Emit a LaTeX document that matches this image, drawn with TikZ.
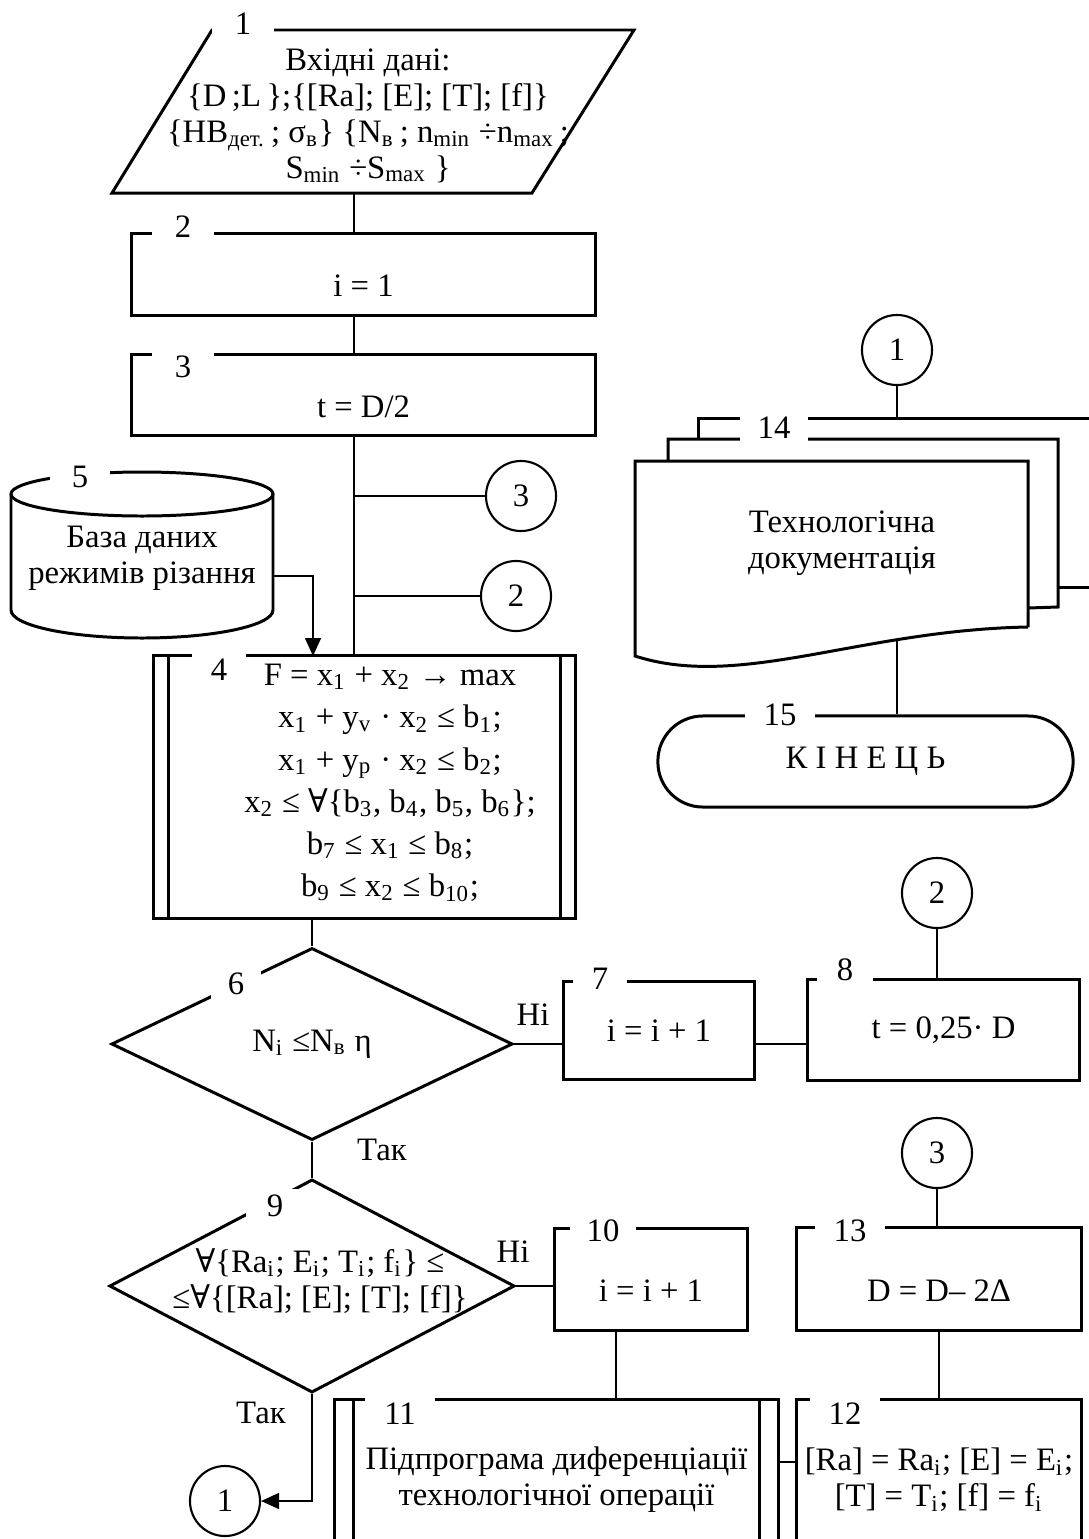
\documentclass[tikz,border=0pt]{standalone}
\usepackage{fontspec}
\setmainfont{Liberation Serif}
\newfontfamily\symfam{DejaVu Serif}
\usetikzlibrary{arrows.meta, positioning, shapes.geometric}
\newcommand{\ix}[1]{\textsubscript{#1}}

\begin{document}
\begin{tikzpicture}[
    x=0.01cm, y=-0.01cm,
    every node/.style={font=\fontsize{9.3}{10.2}\selectfont},
    outl/.style={draw, line width=0.85pt},
    proc/.style={rectangle, draw, line width=0.85pt, inner sep=0pt, align=center},
    dec/.style={diamond, draw, line width=0.85pt, inner sep=0pt, aspect=2, align=center},
    conn/.style={circle, draw, line width=0.6pt, minimum size=0.70cm, inner sep=0pt},
    wire/.style={line width=0.45pt},
    flow/.style={line width=0.45pt, -{Triangle[length=1.8mm, width=1.6mm]}},
    num/.style={fill=white, inner sep=0pt, minimum height=0.30cm},
    low/.style={text height=0.44cm, text depth=0pt}
]
\useasboundingbox (0,0) rectangle (1089,1539);

% Input data
\draw[outl] (212,30) -- (634,30) -- (532,193) -- (112,193) -- cycle;
\node[align=center] (b1) at (368,116) {Вхідні дані:\\ \{D\,;L\,\};\{[Ra]; [E]; [T]; [f]\}\\ \{HB\ix{дет.}\,; σ\ix{в}\} \{N\ix{в}\,; n\ix{min} ÷n\ix{max}\,;\\ S\ix{min} ÷S\ix{max}\ \}};
\coordinate (b1s) at (354,193);

% Process blocks
\node[proc, low, minimum width=4.63cm, minimum height=0.81cm] (b2) at (363.5,274.5) {i = 1};
\node[proc, low, minimum width=4.63cm, minimum height=0.80cm] (b3) at (363.5,395) {t = D/2};

% Data base
\draw[outl] (11,494) -- (11,610) arc[start angle=180, end angle=0, x radius=131, y radius=28] -- (273,494);
\draw[outl] (142,494) ellipse[x radius=131, y radius=22];
\node[align=center] (b5) at (142,558) {База даних\\режимів різання};
\coordinate (b5e) at (273,576);
\coordinate (b5in) at (313,656);

% Optimisation
\node[proc, minimum width=4.21cm, minimum height=2.62cm] (b4) at (364.5,787) {};
\node[align=center, font=\fontsize{9.3}{12}\selectfont] (t4) at (390,783) {F = x\ix{1} + x\ix{2} → max\\ x\ix{1} + y\ix{v} · x\ix{2} ≤ b\ix{1};\\ x\ix{1} + y\ix{p} · x\ix{2} ≤ b\ix{2};\\ x\ix{2} ≤ {\symfam ∀}\{b\ix{3}, b\ix{4}, b\ix{5}, b\ix{6}\};\\ b\ix{7} ≤ x\ix{1} ≤ b\ix{8};\\ b\ix{9} ≤ x\ix{2} ≤ b\ix{10};};

% Decisions and side blocks
\node[dec, minimum width=4.01cm, minimum height=1.92cm] (d6) at (312,1044) {N\ix{i} ≤N\ix{в} η};
\node[proc, minimum width=1.90cm, minimum height=0.97cm] (b7) at (659,1030.5) {i = i + 1};
\node[proc, minimum width=2.71cm, minimum height=1.00cm] (b8) at (943.5,1030) {t = 0,25· D};
\node[dec, minimum width=4.05cm, minimum height=2.13cm] (d9) at (312,1286) {};
\node[align=center] (t9) at (320,1281) {{\symfam ∀}\{Ra\ix{i}; E\ix{i}; T\ix{i}; f\ix{i}\} ≤\\ ≤{\symfam ∀}\{[Ra]; [E]; [T]; [f]\}};
\node[proc, low, minimum width=1.92cm, minimum height=1.01cm] (b10) at (651,1279.5) {i = i + 1};
\node[proc, low, minimum width=2.84cm, minimum height=1.02cm] (b13) at (939,1279) {D = D– 2Δ};
\node[proc, minimum width=4.43cm, minimum height=1.60cm] (b11) at (556.5,1480) {Підпрограма диференціації\\технологічної операції};
\node[proc, minimum width=2.84cm, minimum height=1.60cm] (b12) at (939,1480) {[Ra] = Ra\ix{i}; [E] = E\ix{i};\\{}[T] = T\ix{i}; [f] = f\ix{i}};

\foreach \n/\d in {b4/0.16cm, b11/0.2cm} {
  \draw[outl] ([xshift=\d]\n.north west) -- ([xshift=\d]\n.south west);
  \draw[outl] ([xshift=-\d]\n.north east) -- ([xshift=-\d]\n.south east);
}

% Documents
\draw[outl] (698,439) -- (698,418) -- (1100,418);
\draw[outl] (1058,587) -- (1100,587);
\draw[outl] (668,461) -- (668,439) -- (1058,439) -- (1058,607) -- (1028,608);
\draw[outl] (1028,627) -- (1028,461) -- (635,461) -- (635,656) .. controls (740,690) and (860,630) .. (1028,627);
\node[align=center] (b14) at (842,543) {Технологічна\\документація};
\coordinate (d14t) at (897,418);
\coordinate (d14b) at (897,640);

% End
\node[draw, line width=0.85pt, rounded corners=0.45cm, minimum width=4.15cm, minimum height=0.91cm] (t15) at (865.5,761.5) {К І Н Е Ц Ь};

% Connectors (circles)
\node[conn] (c1a) at (897,350) {1};
\node[conn] (c3a) at (521,496) {3};
\node[conn] (c2a) at (516,596) {2};
\node[conn] (c2b) at (937,893) {2};
\node[conn] (c3b) at (937,1153) {3};
\node[conn] (c1b) at (225,1501) {1};

% Flow lines
\draw[wire] (b1s) -- (b1s |- b2.north);
\draw[wire] (b2.south -| b1s) -- (b3.north -| b1s);
\draw[wire] (b3.south -| b1s) -- (b4.north -| b1s);
\draw[wire] (c3a.west -| b1s) -- (c3a.west);
\draw[wire] (c2a.west -| b1s) -- (c2a.west);
\draw[flow] (b5e) -| (b5in);
\draw[wire] (d6.north) -- (d6.north |- b4.south);
\draw[wire] (d6.south) -- (d9.north);
\draw[wire] (d6.east) -- (d6.east -| b7.west);
\draw[wire] (b7.east |- d6.east) -- (b8.west |- d6.east);
\draw[wire] (c2b.south) -- (c2b.south |- b8.north);
\draw[wire] (d9.east) -- (d9.east -| b10.west);
\draw[wire] (c3b.south) -- (c3b.south |- b13.north);
\draw[wire] ([xshift=-0.35cm]b10.south) -- ([xshift=-0.35cm]b10.south |- b11.north);
\draw[wire] (b13.south) -- (b12.north);
\draw[wire] ([yshift=0.18cm]b11.east) -- ([yshift=0.18cm]b11.east -| b12.west);
\draw[flow] (d9.south) |- (c1b.east);
\draw[wire] (c1a.south) -- (d14t);
\draw[wire] (d14b) -- (d14b |- t15.north);

% Branch labels
\node at (382,1150) {Так};
\node at (261,1413) {Так};
\node at (533,1015) {Ні};
\node at (513,1252) {Ні};

% Block numbers
\node[num, minimum width=0.62cm] at (243,24) {1};
\node[num, minimum width=0.61cm] at (183,227) {2};
\node[num, minimum width=0.61cm, minimum height=0.32cm] at (183,367) {3};
\node[num, minimum width=0.53cm, minimum height=0.34cm, anchor=north] at (219,652) {4};
\node[num, minimum width=0.59cm] at (80,477) {5};
\node[num, minimum width=0.50cm] at (236,984) {6};
\node[num, minimum width=0.54cm] at (600,979) {7};
\node[num, minimum width=0.55cm] at (845,970) {8};
\node[num, minimum width=0.58cm, minimum height=0.34cm] at (275,1206) {9};
\node[num, minimum width=0.66cm] at (603,1231) {10};
\node[num, minimum width=0.69cm, minimum height=0.32cm, anchor=north] at (400,1397) {11};
\node[num, minimum width=0.69cm, minimum height=0.32cm, anchor=north] at (845,1397) {12};
\node[num, minimum width=0.69cm] at (850,1231) {13};
\node[num, minimum width=0.68cm, minimum height=0.38cm] at (774,428) {14};
\node[num, minimum width=0.70cm] at (780,715) {15};
\end{tikzpicture}
\end{document}
